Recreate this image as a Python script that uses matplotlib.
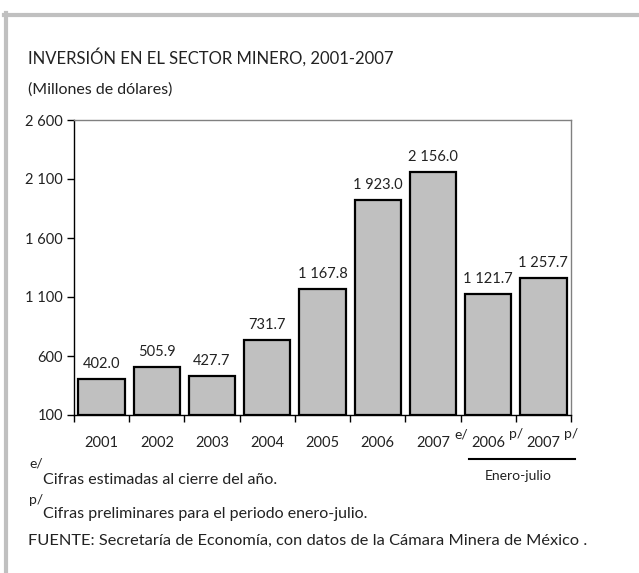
import numpy as np
import matplotlib
matplotlib.use("Agg")
import matplotlib.pyplot as plt
from matplotlib.lines import Line2D
from matplotlib.transforms import offset_copy
from matplotlib.ticker import FuncFormatter, FixedLocator, NullFormatter

plt.rcParams["font.family"] = ["Lato", "DejaVu Sans"]

years = ["2001", "2002", "2003", "2004", "2005", "2006", "2007", "2006", "2007"]
marks = ["", "", "", "", "", "", "e/", "p/", "p/"]
values = [402.0, 505.9, 427.7, 731.7, 1167.8, 1923.0, 2156.0, 1121.7, 1257.7]
y_ticks = [100, 600, 1100, 1600, 2100, 2600]

W, H = 639, 573
text_color = "#222222"
bar_color = "#c0c0c0"
frame_color = "#c0c0c0"


def px(x, y):
    # pixel position (from top-left) -> figure fraction
    return x / W, 1 - y / H


def fmt(v, dec=0):
    s = f"{v:,.{dec}f}"
    return s.replace(",", " ")


fig = plt.figure(figsize=(W / 100, H / 100), dpi=100, facecolor="white")
ax = fig.add_axes([74 / W, 1 - 415 / H, (571 - 74) / W, (415 - 120) / H])

x = np.arange(len(values))
bars = ax.bar(x, np.array(values) - 100, bottom=100, width=0.84,
              color=bar_color, edgecolor="black", linewidth=1.6, zorder=3)

for xi, v in zip(x, values):
    ax.annotate(fmt(v, 1), (xi, v), xytext=(0, 6), textcoords="offset points",
                ha="center", va="bottom", fontsize=10.5, color=text_color)

ax.set_xlim(-0.5, len(values) - 0.5)
ax.set_ylim(100, 2600)
ax.set_yticks(y_ticks)
ax.yaxis.set_major_formatter(FuncFormatter(lambda v, p: fmt(v)))
ax.tick_params(axis="y", direction="out", length=5, width=1, labelsize=10.5,
               labelcolor=text_color, pad=3)

ax.xaxis.set_major_locator(FixedLocator(np.arange(len(values) + 1) - 0.5))
ax.xaxis.set_major_formatter(NullFormatter())
ax.tick_params(axis="x", direction="out", length=5, width=1)

for xi, yr, mk in zip(x, years, marks):
    ax.annotate(yr, (xi, 100), xytext=(0, -20), textcoords="offset points",
                ha="center", va="center", fontsize=10.5, color=text_color)
    if mk:
        ax.annotate(mk, (xi, 100), xytext=(20, -14), textcoords="offset points",
                    ha="center", va="center", fontsize=10, color=text_color)

ax.spines["left"].set_color("black")
ax.spines["bottom"].set_color("black")
ax.spines["top"].set_color("#808080")
ax.spines["right"].set_color("#808080")
for s in ax.spines.values():
    s.set_linewidth(1)

# enero-julio bracket under the last two bars
under = offset_copy(ax.get_xaxis_transform(), fig=fig, y=-31.7, units="points")
ax.add_line(Line2D([6.65, 8.57], [0, 0], color="black", linewidth=1.5,
                   transform=under, clip_on=False))
ax.annotate("Enero-julio", (7.55, 100), xytext=(0, -44), textcoords="offset points",
            ha="center", va="center", fontsize=10, color=text_color)

# grey frame
fig.add_artist(Line2D([4 / W, 1], [1 - 15 / H, 1 - 15 / H], color=frame_color, linewidth=3))
fig.add_artist(Line2D([5.5 / W, 5.5 / W], [0, 1 - 13 / H], color=frame_color, linewidth=3))

fig.text(*px(28, 57), "INVERSIÓN EN EL SECTOR MINERO, 2001-2007", fontsize=12,
         ha="left", va="center", color=text_color)
fig.text(*px(28, 90), "(Millones de dólares)", fontsize=11.5,
         ha="left", va="center", color=text_color)

fig.text(*px(29, 463), "e/", fontsize=10, ha="left", va="center", color=text_color)
fig.text(*px(43, 480), "Cifras estimadas al cierre del año.", fontsize=11.5,
         ha="left", va="center", color=text_color)
fig.text(*px(29, 500), "p/", fontsize=10, ha="left", va="center", color=text_color)
fig.text(*px(43, 514), "Cifras preliminares para el periodo enero-julio.", fontsize=11.5,
         ha="left", va="center", color=text_color)
fig.text(*px(28, 541), "FUENTE: Secretaría de Economía, con datos de la Cámara Minera de México .",
         fontsize=11.8, ha="left", va="center", color=text_color)

fig.savefig("out.png", dpi=100, facecolor="white")
